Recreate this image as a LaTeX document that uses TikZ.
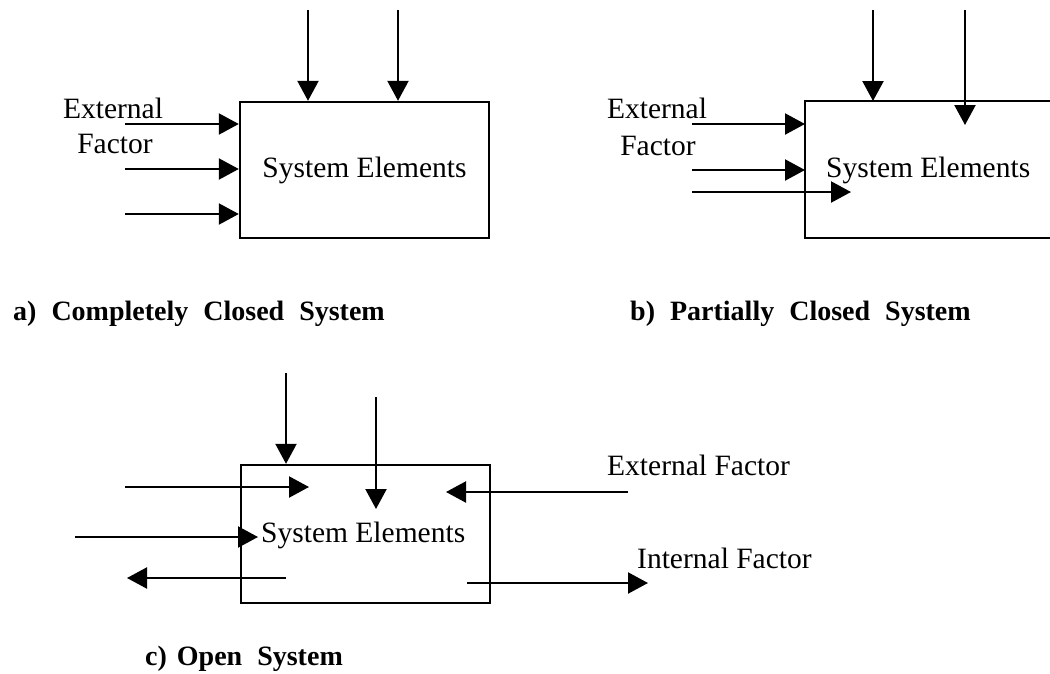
\documentclass[tikz,border=0pt]{standalone}
\usepackage{fontspec}
\setmainfont{Liberation Serif}
\usetikzlibrary{arrows.meta}
\tikzset{
  arr/.style={line width=2.2pt, -{Triangle[length=20pt,width=21pt]}},
  sysbox/.style={draw, line width=2.4pt, inner sep=0pt, font=\fontsize{29.5}{34}\selectfont},
  lbl/.style={inner sep=0pt, anchor=base west, font=\fontsize{29.5}{34}\selectfont},
  lblc/.style={inner sep=0pt, anchor=base, font=\fontsize{29.5}{34}\selectfont},
  captxt/.style={inner sep=0pt, anchor=base west, font=\fontsize{28}{32}\selectfont\bfseries}
}
\newcommand{\wg}{\hspace{15pt}}
\begin{document}
\begin{tikzpicture}[x=1pt,y=-1pt]
\useasboundingbox[fill=white] (0,0) rectangle (1050,673);

% ---------- a) Completely Closed System ----------
\node[sysbox, minimum width=249pt, minimum height=136pt] (boxA) at (364.5,170) {System Elements};
\node[lblc] (aExt) at (113,118) {External};
\node[lblc] (aFac) at (115,153) {Factor};
\coordinate (ad1) at (308,10);
\coordinate (ad2) at (398,10);
\draw[arr] (ad1) -- (ad1 |- boxA.north);
\draw[arr] (ad2) -- (ad2 |- boxA.north);
\coordinate (al1) at (125,124);
\coordinate (al2) at (125,169);
\coordinate (al3) at (125,214);
\draw[arr] (al1) -- (al1 -| boxA.west);
\draw[arr] (al2) -- (al2 -| boxA.west);
\draw[arr] (al3) -- (al3 -| boxA.west);
\node[captxt] (capA) at (13,320) {a)\wg Completely\wg Closed\wg System};

% ---------- b) Partially Closed System ----------
\coordinate (bTL) at (805,101);
\coordinate (bBL) at (805,238);
\draw[line width=2.4pt] (1055,101) -- (bTL) -- (bBL) -- (1055,238);
\node[lbl] (bText) at (826,177) {System Elements};
\node[lblc] (bExt) at (657,118) {External};
\node[lblc] (bFac) at (658,155) {Factor};
\coordinate (bd1) at (873,10);
\coordinate (bd2) at (965,10);
\coordinate (bd2e) at (965,125);
\draw[arr] (bd1) -- (bd1 |- bTL);
\draw[arr] (bd2) -- (bd2e);
\coordinate (bl1) at (692,124);
\coordinate (bl2) at (692,170);
\coordinate (bl3) at (692,192);
\coordinate (bl3e) at (851,192);
\draw[arr] (bl1) -- (bl1 -| bTL);
\draw[arr] (bl2) -- (bl2 -| bTL);
\draw[arr] (bl3) -- (bl3e);
\node[captxt] (capB) at (630,320) {b)\wg Partially\wg Closed\wg System};

% ---------- c) Open System ----------
\node[sysbox, minimum width=249pt, minimum height=138pt] (boxC) at (365.5,534) {};
\node[lbl] (cText) at (261,542) {System Elements};
\coordinate (cd1) at (286,373);
\draw[arr] (cd1) -- (cd1 |- boxC.north);
\coordinate (cd2) at (376,397);
\coordinate (cd2e) at (376,509);
\draw[arr] (cd2) -- (cd2e);
\coordinate (cl1) at (125,487);
\coordinate (cl1e) at (309,487);
\draw[arr] (cl1) -- (cl1e);
\coordinate (cl2) at (75,537);
\coordinate (cl2e) at (258,537);
\draw[arr] (cl2) -- (cl2e);
\coordinate (cl3) at (286,578);
\coordinate (cl3e) at (127,578);
\draw[arr] (cl3) -- (cl3e);
\coordinate (cr1) at (628,492);
\coordinate (cr1e) at (446,492);
\draw[arr] (cr1) -- (cr1e);
\coordinate (cr2) at (467,583);
\coordinate (cr2e) at (648,583);
\draw[arr] (cr2) -- (cr2e);
\node[lbl] (cExt) at (607,475) {External Factor};
\node[lbl] (cInt) at (637,568) {Internal Factor};
\node[captxt] (capC) at (145,665) {c)\hspace{10pt}Open\wg System};
\end{tikzpicture}
\end{document}
